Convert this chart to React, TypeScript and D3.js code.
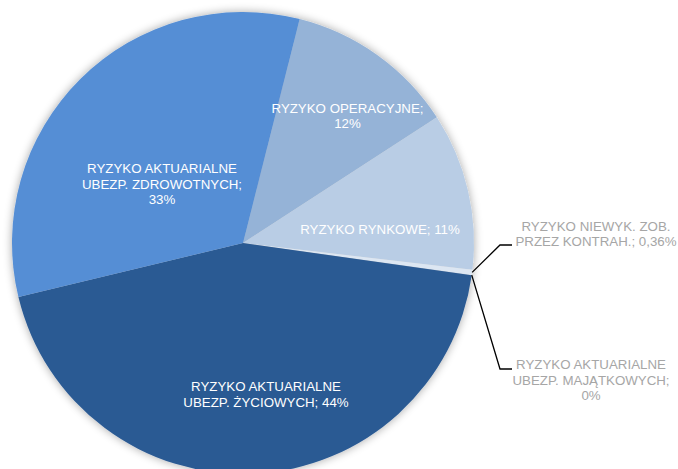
import React from 'react';
import * as d3 from 'd3';

// ---- data ----
const categories = [
  'RYZYKO OPERACYJNE',
  'RYZYKO RYNKOWE',
  'RYZYKO NIEWYK. ZOB. PRZEZ KONTRAH.',
  'RYZYKO AKTUARIALNE UBEZP. MAJĄTKOWYCH',
  'RYZYKO AKTUARIALNE UBEZP. ŻYCIOWYCH',
  'RYZYKO AKTUARIALNE UBEZP. ZDROWOTNYCH',
];
const values = [11.9, 11.0, 0.36, 0.02, 44.0, 32.7];
const labelLines = [
  ['RYZYKO OPERACYJNE;', '12%'],
  ['RYZYKO RYNKOWE; 11%'],
  ['RYZYKO NIEWYK. ZOB.', 'PRZEZ KONTRAH.; 0,36%'],
  ['RYZYKO AKTUARIALNE', 'UBEZP. MAJĄTKOWYCH;', '0%'],
  ['RYZYKO AKTUARIALNE', 'UBEZP. ŻYCIOWYCH; 44%'],
  ['RYZYKO AKTUARIALNE', 'UBEZP. ZDROWOTNYCH;', '33%'],
];

// ---- layout / style ----
const W = 678;
const H = 469;
const CX = 243;
const CY = 243;
const R = 231;
const START_DEG = 14.2;
const fills = ['#95B3D7', '#B9CDE5', '#DCE6F2', '#C6D9F1', 'url(#lifeGrad)', '#558ED5'];
// label anchor: [x, first baseline y, inside?]
const labelPos: [number, number, boolean][] = [
  [347.5, 112.7, true],
  [380, 234.3, true],
  [596, 230.7, false],
  [591, 369.3, false],
  [266, 391, true],
  [162, 173, true],
];
// leader elbows for outside labels: [elbowX, elbowY, endX]
const leaders: Record<number, [number, number, number]> = {
  2: [500, 245, 512],
  3: [500, 369, 512],
};
const LINE_H = 15.5;

export default function App() {
  const start = (START_DEG * Math.PI) / 180;
  const pie = d3
    .pie<number>()
    .sort(null)
    .value((d) => d)
    .startAngle(start)
    .endAngle(start + 2 * Math.PI);
  const arcs = pie(values);
  const arc = d3.arc<d3.PieArcDatum<number>>().innerRadius(0).outerRadius(R);

  return (
    <svg
      width={W}
      height={H}
      style={{ position: 'absolute', left: 0, top: 0, background: '#fff' }}
      fontFamily="'Liberation Sans', Arial, sans-serif"
    >
      <defs>
        <linearGradient id="lifeGrad" gradientUnits="userSpaceOnUse" x1="0" y1={CY} x2="0" y2={CY + R}>
          <stop offset="0" stopColor="#2B5A93" />
          <stop offset="1" stopColor="#1F3F6D" />
        </linearGradient>
        <filter id="glow" x="-20%" y="-20%" width="140%" height="140%">
          <feGaussianBlur in="SourceAlpha" stdDeviation="5" />
          <feComponentTransfer>
            <feFuncA type="linear" slope="0.35" />
          </feComponentTransfer>
          <feMerge>
            <feMergeNode />
            <feMergeNode in="SourceGraphic" />
          </feMerge>
        </filter>
      </defs>
      <g transform={`translate(${CX},${CY})`} filter="url(#glow)">
        {arcs.map((a, i) => (
          <path key={categories[i]} d={arc(a) || ''} fill={fills[i]} />
        ))}
      </g>
      {arcs.map((a, i) => {
        const ld = leaders[i];
        if (!ld) return null;
        const mid = (a.startAngle + a.endAngle) / 2;
        const sx = CX + R * Math.sin(mid);
        const sy = CY - R * Math.cos(mid);
        return (
          <polyline
            key={'l' + i}
            points={`${sx},${sy} ${ld[0]},${ld[1]} ${ld[2]},${ld[1]}`}
            fill="none"
            stroke="#000"
            strokeWidth={1.3}
          />
        );
      })}
      {labelLines.map((lines, i) => {
        const [x, y, inside] = labelPos[i];
        return (
          <text
            key={'t' + i}
            x={x}
            y={y}
            textAnchor="middle"
            fontSize={13.3}
            fill={inside ? '#FFFFFF' : '#A6A6A6'}
          >
            {lines.map((ln, j) => (
              <tspan key={j} x={x} y={y + j * LINE_H}>
                {ln}
              </tspan>
            ))}
          </text>
        );
      })}
    </svg>
  );
}
